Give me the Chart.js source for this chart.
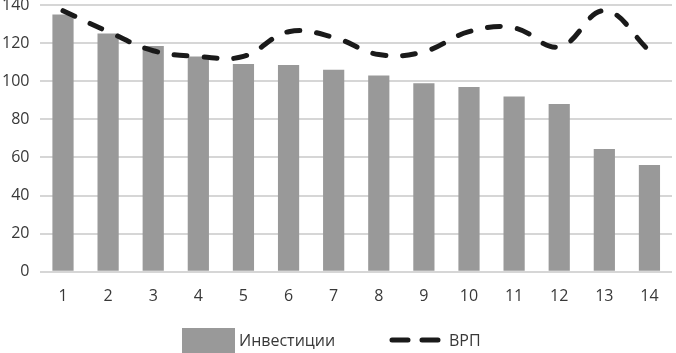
<!DOCTYPE html>
<html>
<head>
<meta charset="utf-8">
<script src="https://cdn.jsdelivr.net/npm/chart.js@4"></script>
<style>
  html, body { margin: 0; padding: 0; background: #fff; }
  #wrap { width: 676px; height: 353px; position: relative; }
</style>
</head>
<body>
<div id="wrap"><canvas id="c"></canvas></div>
<script>
const categories = ['1','2','3','4','5','6','7','8','9','10','11','12','13','14'];
const investments = [135, 125, 118.5, 113, 109, 108.5, 106, 103, 99, 97, 92, 88, 64.5, 56];
const grp = [137, 126, 116, 113, 113, 126, 123, 114, 115.5, 126, 128, 118, 137, 116];
const yTicks = [0, 20, 40, 60, 80, 100, 120, 140];
const seriesNames = ['Инвестиции', 'ВРП'];

const FONT = '"Open Sans", "DejaVu Sans", sans-serif';
const TEXT = '#383838';

const legendPlugin = {
  id: 'customLegend',
  afterDraw(chart) {
    const ctx = chart.ctx;
    const W = chart.width;
    const y = 340;
    ctx.save();
    ctx.font = '16px ' + FONT;
    ctx.textBaseline = 'middle';
    const x0 = Math.round(W * 0.2695);
    ctx.fillStyle = '#999999';
    ctx.fillRect(x0, 328, 53, 25);
    ctx.fillStyle = TEXT;
    ctx.fillText(seriesNames[0], x0 + 57, y + 1);
    const x1 = Math.round(W * 0.577);
    ctx.strokeStyle = '#1a1a1a';
    ctx.lineWidth = 5;
    ctx.lineCap = 'round';
    ctx.setLineDash([16, 14]);
    ctx.beginPath();
    ctx.moveTo(x1 + 2, y);
    ctx.lineTo(x1 + 53, y);
    ctx.stroke();
    ctx.setLineDash([]);
    ctx.fillText(seriesNames[1], x1 + 59, y + 1);
    ctx.restore();
  }
};

new Chart(document.getElementById('c'), {
  data: {
    labels: categories,
    datasets: [
      {
        type: 'bar',
        label: seriesNames[0],
        data: investments,
        backgroundColor: '#999999',
        categoryPercentage: 1,
        barPercentage: 0.47,
        order: 2
      },
      {
        type: 'line',
        label: seriesNames[1],
        data: grp,
        borderColor: '#1a1a1a',
        borderWidth: 5,
        borderDash: [13, 17],
        borderCapStyle: 'round',
        tension: 0.4,
        pointRadius: 0,
        fill: false,
        order: 1
      }
    ]
  },
  options: {
    responsive: true,
    maintainAspectRatio: false,
    animation: false,
    layout: { autoPadding: false, padding: { top: 5, right: 4, bottom: 32, left: -9 } },
    plugins: {
      legend: { display: false },
      tooltip: { enabled: false }
    },
    scales: {
      x: {
        grid: { display: false, drawTicks: false },
        border: { display: false },
        ticks: { color: TEXT, font: { family: FONT, size: 16 }, padding: 15, maxRotation: 0 },
        afterFit(s) { s.paddingLeft = 0; s.paddingRight = 0; }
      },
      y: {
        min: 0,
        max: 140,
        afterBuildTicks(axis) { axis.ticks = yTicks.map(v => ({ value: v })); },
        grid: { color: '#d6d6d6', lineWidth: 2, drawTicks: false },
        border: { display: false },
        ticks: { color: TEXT, font: { family: FONT, size: 16 }, padding: 11 },
        afterFit(s) { s.paddingTop = 0; s.paddingBottom = 0; }
      }
    }
  },
  plugins: [legendPlugin]
});
</script>
</body>
</html>
